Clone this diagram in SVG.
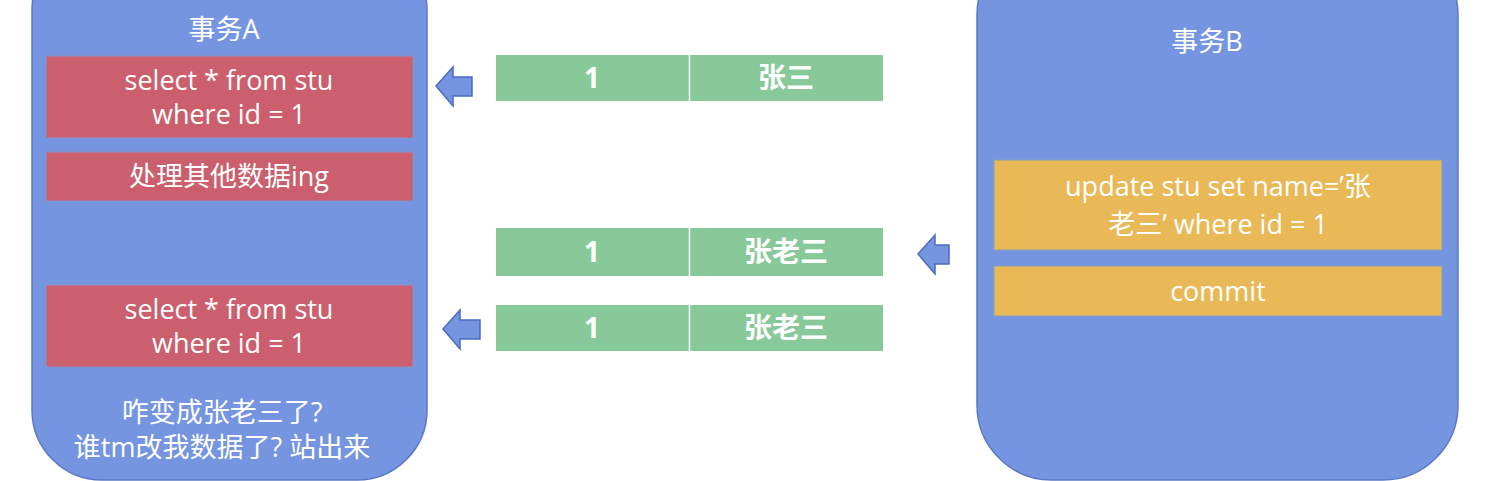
<svg xmlns="http://www.w3.org/2000/svg" width="1502" height="481" viewBox="0 0 1502 481">
<style>
.panel{fill:#7595e1;stroke:#5a78c4;stroke-width:1.5}
.red{fill:#cb5f6d;stroke:#8a93c8;stroke-width:1}
.yel{fill:#e9b957;stroke:#8aa0b8;stroke-width:1}
.grn{fill:#88c999}
.arr{fill:#7595e1;stroke:#4d6bc0;stroke-width:1.5}
text{font-family:"Open Sans","Noto Sans CJK SC",sans-serif;fill:#fff;text-anchor:middle}
.t{font-size:27px}
.b{font-size:28px;font-weight:bold}
</style>
<rect width="1502" height="481" fill="#fff"/>
<g id="txA">
<rect class="panel" x="32" y="-60" width="395" height="540" rx="70"/>
<text class="t" x="224" y="39">事务A</text>
</g>
<g id="a1"><rect class="red" x="46" y="56" width="367" height="82"/>
<text class="t" x="229" y="90">select * from stu</text><text class="t" x="229" y="124">where id = 1</text></g>
<g id="a2"><rect class="red" x="46" y="152" width="367" height="49"/>
<text class="t" x="229" y="186">处理其他数据ing</text></g>
<g id="a3"><rect class="red" x="46" y="285" width="367" height="82"/>
<text class="t" x="229" y="319">select * from stu</text><text class="t" x="229" y="353">where id = 1</text></g>
<g id="noteA"><text class="t" x="222" y="422">咋变成张老三了?</text><text class="t" x="222" y="457">谁tm改我数据了? 站出来</text></g>
<g id="txB">
<rect class="panel" x="977" y="-60" width="481" height="540" rx="75"/>
<text class="t" x="1207" y="51">事务B</text>
</g>
<g id="b1"><rect class="yel" x="994" y="160" width="448" height="90"/>
<text class="t" x="1218" y="196">update stu set name=’张</text><text class="t" x="1218" y="234">老三’ where id = 1</text></g>
<g id="b2"><rect class="yel" x="994" y="266" width="448" height="50"/>
<text class="t" x="1218" y="301">commit</text></g>
<g id="row1"><rect class="grn" x="496" y="55" width="387" height="46"/>
<line x1="689.5" y1="55" x2="689.5" y2="101" stroke="#fff" stroke-width="1.5"/>
<text class="b" x="592" y="88">1</text><text class="b" x="786" y="88">张三</text></g>
<g id="row2"><rect class="grn" x="496" y="228" width="387" height="48"/>
<line x1="689.5" y1="228" x2="689.5" y2="276" stroke="#fff" stroke-width="1.5"/>
<text class="b" x="592" y="262">1</text><text class="b" x="786" y="262">张老三</text></g>
<g id="row3"><rect class="grn" x="496" y="305" width="387" height="46"/>
<line x1="689.5" y1="305" x2="689.5" y2="351" stroke="#fff" stroke-width="1.5"/>
<text class="b" x="592" y="338">1</text><text class="b" x="786" y="338">张老三</text></g>
<g id="connectors">
<path class="arr" d="M436,86 L453,67 L453,77 L472,77 L472,96 L453,96 L453,106 Z"/>
<path class="arr" d="M918,254 L935,235 L935,245 L949,245 L949,264 L935,264 L935,274 Z"/>
<path class="arr" d="M443,329 L460,310 L460,320 L480,320 L480,339 L460,339 L460,349 Z"/>
</g>
</svg>
